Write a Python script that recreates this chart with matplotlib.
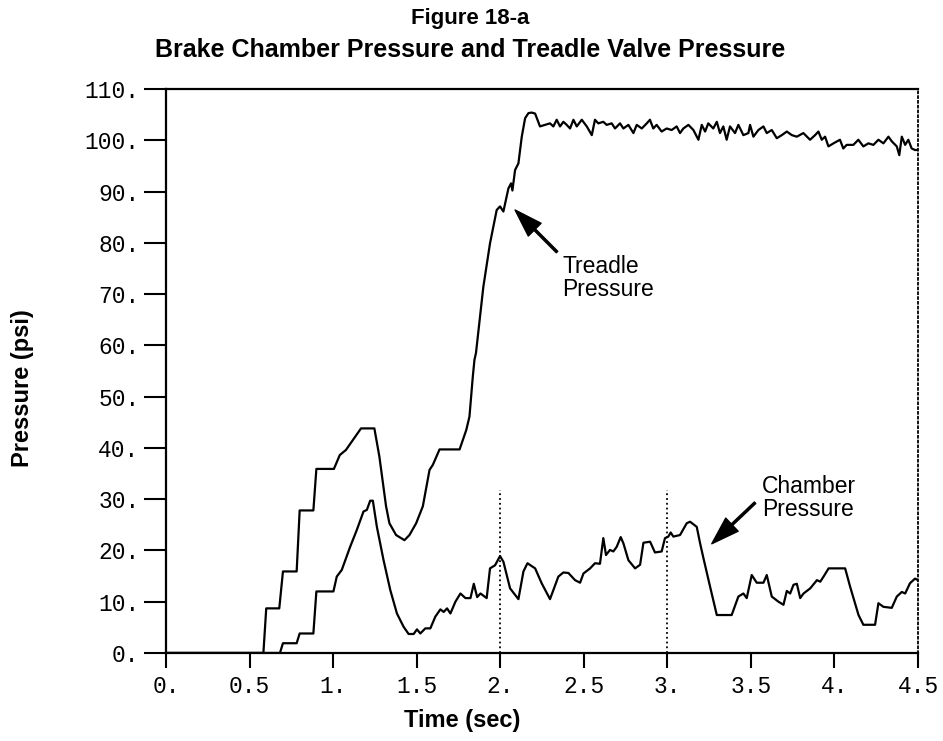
import matplotlib.pyplot as plt

# treadle valve pressure (psi) vs time (sec)
treadle_t = [0, 0.583, 0.600, 0.678, 0.700, 0.782, 0.800, 0.882, 0.900, 1.005,
             1.040, 1.077, 1.167, 1.247, 1.277, 1.317, 1.337, 1.377, 1.427, 1.457,
             1.497, 1.537, 1.577, 1.597, 1.637, 1.757, 1.797, 1.816, 1.836, 1.846,
             1.855, 1.899, 1.939, 1.979, 1.999, 2.019, 2.049, 2.065, 2.073, 2.089,
             2.109, 2.129, 2.149, 2.169, 2.189, 2.209, 2.238, 2.268, 2.298, 2.318,
             2.338, 2.358, 2.378, 2.398, 2.418, 2.438, 2.458, 2.488, 2.518, 2.548,
             2.567, 2.587, 2.617, 2.637, 2.667, 2.687, 2.717, 2.737, 2.767, 2.797,
             2.817, 2.847, 2.877, 2.896, 2.916, 2.936, 2.966, 2.996, 3.026, 3.056,
             3.076, 3.096, 3.126, 3.156, 3.186, 3.206, 3.226, 3.245, 3.275, 3.296,
             3.315, 3.335, 3.355, 3.375, 3.405, 3.425, 3.455, 3.485, 3.495, 3.515,
             3.545, 3.575, 3.595, 3.625, 3.655, 3.685, 3.715, 3.745, 3.775, 3.814,
             3.854, 3.884, 3.904, 3.924, 3.944, 3.964, 3.994, 4.033, 4.053, 4.073,
             4.113, 4.143, 4.173, 4.203, 4.233, 4.263, 4.293, 4.323, 4.343, 4.373,
             4.388, 4.403, 4.423, 4.442, 4.462, 4.482, 4.500]
treadle_p = [0, 0, 8.7, 8.7, 15.9, 15.9, 27.8, 27.8, 35.9, 35.9,
             38.6, 39.6, 43.8, 43.8, 38.3, 28.6, 25.3, 23.0, 22.0, 23.0,
             25.3, 28.6, 35.7, 36.7, 39.7, 39.7, 43.5, 46.1, 53.9, 57.2,
             58.5, 71.4, 79.9, 86.4, 87.1, 86.1, 90.6, 91.6, 90.2, 94.2,
             95.5, 100.7, 104.3, 105.3, 105.4, 105.2, 102.7, 103.0, 103.3, 102.7,
             104.0, 102.7, 103.6, 103.0, 102.3, 104.0, 102.7, 104.0, 102.7, 101.0,
             104.0, 103.3, 103.6, 103.0, 103.3, 102.3, 103.3, 102.3, 103.0, 101.4,
             103.0, 102.3, 103.3, 104.0, 102.3, 103.0, 101.7, 102.3, 102.0, 102.7,
             101.4, 102.3, 103.0, 102.0, 100.1, 103.0, 101.7, 103.3, 102.3, 103.6,
             101.4, 102.7, 100.1, 102.7, 101.4, 103.0, 101.0, 101.4, 103.0, 100.7,
             102.0, 102.7, 101.4, 102.0, 100.4, 101.0, 101.7, 101.0, 100.7, 101.4,
             100.1, 101.0, 101.7, 100.1, 100.7, 98.8, 99.4, 100.1, 98.4, 99.1,
             99.1, 100.1, 98.8, 99.4, 99.1, 100.1, 99.4, 100.7, 99.8, 98.8,
             97.1, 100.7, 99.1, 100.1, 98.4, 98.1, 98.1]

# brake chamber pressure (psi) vs time (sec)
chamber_t = [0, 0.682, 0.700, 0.782, 0.800, 0.882, 0.900, 1.002, 1.022, 1.052,
             1.102, 1.142, 1.182, 1.202, 1.222, 1.238, 1.262, 1.302, 1.342, 1.382,
             1.422, 1.452, 1.482, 1.502, 1.522, 1.552, 1.582, 1.612, 1.642, 1.662,
             1.682, 1.702, 1.732, 1.762, 1.792, 1.822, 1.842, 1.862, 1.882, 1.919,
             1.939, 1.969, 1.999, 2.019, 2.059, 2.109, 2.139, 2.163, 2.209, 2.248,
             2.298, 2.348, 2.378, 2.408, 2.448, 2.478, 2.498, 2.538, 2.567, 2.597,
             2.617, 2.633, 2.657, 2.677, 2.697, 2.721, 2.737, 2.767, 2.807, 2.837,
             2.857, 2.897, 2.926, 2.966, 2.986, 3.006, 3.020, 3.036, 3.076, 3.116,
             3.136, 3.176, 3.196, 3.216, 3.256, 3.296, 3.385, 3.425, 3.455, 3.475,
             3.505, 3.535, 3.575, 3.595, 3.625, 3.665, 3.695, 3.715, 3.735, 3.755,
             3.775, 3.795, 3.815, 3.855, 3.895, 3.915, 3.935, 3.965, 4.064, 4.094,
             4.144, 4.173, 4.243, 4.263, 4.293, 4.343, 4.373, 4.403, 4.423, 4.452,
             4.482, 4.500]
chamber_p = [0, 0, 1.9, 1.9, 3.8, 3.8, 12.0, 12.0, 14.9, 16.2,
             20.7, 24.0, 27.6, 27.9, 29.7, 29.7, 24.6, 18.1, 12.3, 7.7,
             5.1, 3.7, 3.7, 4.6, 3.8, 4.8, 4.8, 7.1, 8.5, 8.0,
             8.7, 7.7, 10.0, 11.6, 10.7, 10.7, 13.5, 10.9, 11.6, 10.7,
             16.5, 17.1, 18.9, 17.8, 12.6, 10.5, 15.9, 17.5, 16.5, 13.6,
             10.5, 14.9, 15.7, 15.6, 14.2, 13.7, 15.5, 16.5, 17.5, 17.4,
             22.4, 19.1, 20.1, 19.8, 20.7, 22.6, 21.4, 18.1, 16.5, 17.2,
             21.5, 21.7, 19.6, 19.8, 22.4, 22.7, 23.5, 22.7, 23.0, 25.3,
             25.6, 24.6, 21.4, 18.5, 12.9, 7.4, 7.4, 11.0, 11.6, 10.7,
             15.2, 13.7, 13.7, 15.2, 11.0, 10.0, 9.4, 12.1, 11.6, 13.3,
             13.5, 10.7, 11.6, 12.6, 14.2, 13.9, 14.9, 16.5, 16.5, 12.9,
             7.4, 5.5, 5.5, 9.7, 9.0, 8.8, 11.0, 11.9, 11.6, 13.6,
             14.5, 14.2]

xticks = [0, 0.5, 1, 1.5, 2, 2.5, 3, 3.5, 4, 4.5]
xtick_labels = ['0.', '0.5', '1.', '1.5', '2.', '2.5', '3.', '3.5', '4.', '4.5']
yticks = list(range(0, 111, 10))
ytick_labels = [f'{v}.' for v in yticks]
marker_times = [2, 3]
marker_top = 31.7

sans = ['Liberation Sans', 'DejaVu Sans']
mono = ['Liberation Mono', 'DejaVu Sans Mono']

fig = plt.figure(figsize=(9.43, 7.41), dpi=100)
ax = fig.add_axes([0.176, 0.1188, 0.7975, 0.7611])

ax.plot(treadle_t, treadle_p, color='black', lw=1.6)
ax.plot(chamber_t, chamber_p, color='black', lw=1.6)
ax.vlines(marker_times, 0, marker_top, colors='black', linestyles=':', lw=1.3)

ax.set_xlim(0, 4.5)
ax.set_ylim(0, 110)
ax.set_xticks(xticks)
ax.set_xticklabels(xtick_labels, family=mono, fontsize=16.5)
ax.set_yticks(yticks)
ax.set_yticklabels(ytick_labels, family=mono, fontsize=16.5)
ax.tick_params(axis='y', length=16, width=1.5, pad=3)
ax.tick_params(axis='x', length=11, width=1.5, pad=5)
for side in ['left', 'bottom', 'top']:
    ax.spines[side].set_linewidth(1.6)
ax.spines['right'].set_linestyle(':')
ax.spines['right'].set_linewidth(1.3)

# labels with pointer arrows
arrow = dict(facecolor='black', edgecolor='black', width=1.5, headwidth=13,
             headlength=20, shrink=0)
ax.annotate('', xy=(2.089, 86.4), xytext=(2.34, 78.2), arrowprops=arrow)
ax.text(2.37, 73.2, 'Treadle\nPressure', fontsize=16.5, family=sans,
        va='center', ha='left', linespacing=1.0)
ax.annotate('', xy=(3.266, 21.3), xytext=(3.525, 29.3), arrowprops=arrow)
ax.text(3.567, 30.2, 'Chamber\nPressure', fontsize=16.5, family=sans,
        va='center', ha='left', linespacing=1.0)

fig.text(0.499, 0.975, 'Figure 18-a', ha='center', va='center',
         fontsize=16, fontweight='bold', family=sans)
fig.text(0.499, 0.933, 'Brake Chamber Pressure and Treadle Valve Pressure',
         ha='center', va='center', fontsize=18, fontweight='bold', family=sans)
fig.text(0.49, 0.027, 'Time (sec)', ha='center', va='center',
         fontsize=17, fontweight='bold', family=sans)
fig.text(0.024, 0.476, 'Pressure (psi)', ha='center', va='center',
         rotation=90, fontsize=17, fontweight='bold', family=sans)

fig.savefig('out.png', dpi=100)
